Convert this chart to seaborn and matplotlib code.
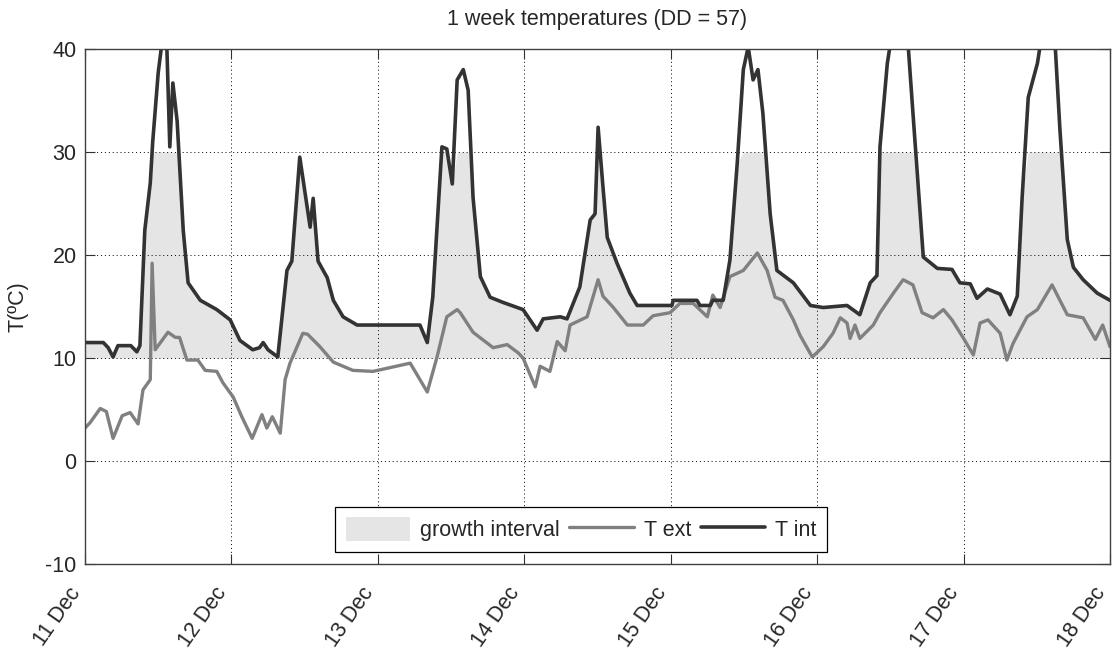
import numpy as np
import matplotlib
matplotlib.use("Agg")
import matplotlib.pyplot as plt
import matplotlib.transforms as mtransforms
import seaborn as sns
from matplotlib.patches import Patch
from matplotlib.lines import Line2D

# ---------------- data ----------------
day_labels = ["11 Dec", "12 Dec", "13 Dec", "14 Dec", "15 Dec", "16 Dec", "17 Dec", "18 Dec"]
y_ticks = [-10, 0, 10, 20, 30, 40]

tint_hours = [0, 3, 3.8, 4.6, 5.4, 7.5, 8.5, 9, 9.8, 10.7, 11.1, 12, 12.8, 13.4, 13.9, 14.4, 15.1,
              16.1, 16.9, 18.9, 21.6, 23.8, 25.4, 27.5, 28.6, 29.2, 30, 31.6, 33.1, 33.9, 35.2,
              36.9, 37.4, 38.2, 39.7, 40.7, 42.3, 44.6, 54.9, 56.1, 57, 58.5, 59.3, 60.2, 61, 62,
              62.8, 63.6, 64.8, 66.4, 68.5, 71.8, 74.1, 75.1, 77.9, 79, 81.1, 82.8, 83.6, 84.1,
              84.8, 85.6, 87.2, 89.3, 90.5, 96.2, 96.4, 100.3, 100.8, 102.5, 102.9, 104.6, 105.7,
              106.9, 107.9, 108.7, 109.5, 110.3, 111.1, 112.3, 113.4, 116.1, 118.9, 121, 124.9,
              127, 128.7, 129.8, 130.3, 131.5, 132, 133.5, 134.9, 135.7, 137.4, 139.7, 142.1,
              143.4, 145.1, 146.2, 147.9, 150, 151.6, 152.8, 153.6, 154.6, 156.1, 156.6, 157.8,
              159, 159.8, 161, 162, 163.6, 165.9, 168]
tint_vals = [11.5, 11.5, 11.0, 10.1, 11.2, 11.2, 10.6, 11.2, 22.4, 27.0, 31.0, 37.7, 41.5, 40.5,
             30.5, 36.7, 33.0, 22.4, 17.3, 15.6, 14.7, 13.7, 11.7, 10.8, 11.0, 11.5, 10.8, 10.1,
             18.5, 19.4, 29.5, 22.7, 25.5, 19.4, 17.8, 15.6, 14.0, 13.2, 13.2, 11.5, 15.9, 30.5,
             30.3, 26.9, 37.0, 38.0, 36.0, 25.6, 17.9, 15.9, 15.4, 14.7, 12.7, 13.8, 14.0, 13.8,
             16.9, 23.4, 24.0, 32.4, 27.3, 21.7, 19.2, 16.3, 15.1, 15.1, 15.6, 15.6, 15.1, 15.1,
             15.6, 15.6, 19.5, 28.9, 38.0, 40.2, 37.0, 38.0, 33.8, 24.0, 18.5, 17.3, 15.1, 14.9,
             15.1, 14.2, 17.3, 18.0, 30.5, 38.6, 40.5, 42.0, 40.5, 33.8, 19.8, 18.7, 18.6, 17.3,
             17.2, 15.8, 16.7, 16.2, 14.2, 16.0, 25.6, 35.3, 38.6, 40.5, 42.0, 40.5, 32.1, 21.5,
             18.8, 17.6, 16.3, 15.6]

text_hours = [0, 0.8, 2.5, 3.5, 4.6, 6.1, 7.4, 8.7, 9.5, 10.7, 11.0, 11.5, 13.6, 14.8, 15.5, 16.7,
              18.5, 19.7, 21.6, 22.6, 24.3, 25.7, 27.4, 29, 29.8, 30.7, 32, 32.8, 33.6, 35.7, 36.5,
              38.5, 40.7, 43.9, 47.2, 53.3, 56.1, 57.7, 59.3, 61, 61.5, 63.6, 66.9, 69.2, 71, 71.8,
              73.8, 74.6, 76.2, 77.4, 78.7, 79.5, 82.3, 84.1, 84.9, 86.6, 88.9, 91.5, 93.1, 95.9,
              97.5, 99.7, 102, 102.9, 104.1, 105.7, 107.9, 110.2, 111.8, 113.1, 114.4, 116.1, 117.2,
              119.2, 121, 122.6, 123.8, 124.9, 125.4, 126.2, 127, 129.2, 130.3, 132.5, 134.1, 135.7,
              137.2, 139, 140.7, 142.1, 143.9, 145.6, 146.7, 148, 150, 151.1, 152.1, 154.4, 156.1,
              158.5, 161, 163.6, 165.6, 166.8, 168]
text_vals = [3.2, 3.7, 5.1, 4.8, 2.2, 4.4, 4.7, 3.6, 6.9, 7.9, 19.2, 10.8, 12.5, 12.0, 12.0, 9.8,
             9.8, 8.8, 8.7, 7.6, 6.2, 4.3, 2.2, 4.5, 3.2, 4.3, 2.7, 7.9, 9.5, 12.4, 12.3, 11.1, 9.6,
             8.8, 8.7, 9.5, 6.7, 10.1, 14.0, 14.7, 14.4, 12.5, 11.0, 11.3, 10.5, 10.0, 7.2, 9.2,
             8.7, 11.6, 10.7, 13.2, 14.0, 17.6, 16.0, 14.9, 13.2, 13.2, 14.1, 14.4, 15.3, 15.3,
             14.0, 16.1, 14.9, 17.9, 18.5, 20.2, 18.5, 15.9, 15.6, 13.7, 12.2, 10.1, 11.1, 12.4,
             13.9, 13.4, 11.9, 13.2, 11.9, 13.2, 14.4, 16.3, 17.6, 17.1, 14.4, 13.9, 14.7, 13.7,
             12.0, 10.3, 13.4, 13.7, 12.4, 9.8, 11.4, 14.0, 14.7, 17.1, 14.2, 13.9, 11.8, 13.2,
             11.1]

growth_low = 10
growth_high = 30

# ---------------- style ----------------
sns.set_style("white")
plt.rcParams['font.family'] = ['Liberation Sans', 'DejaVu Sans']

FS = 15.5
fill_col = "#e5e5e5"
ext_col = "#808080"
int_col = "#333333"

fig = plt.figure(figsize=(11.16, 6.51), dpi=100)
ax = fig.add_axes([85 / 1116, 1 - 564 / 651, 1025 / 1116, 515 / 651])

tint_arr = np.array(tint_vals)
ax.fill_between(tint_hours, growth_low, np.clip(tint_arr, growth_low, growth_high),
                color=fill_col, linewidth=0, zorder=1)

sns.lineplot(x=text_hours, y=text_vals, color=ext_col, linewidth=2.4, ax=ax, zorder=3,
             legend=False)
sns.lineplot(x=tint_hours, y=tint_vals, color=int_col, linewidth=2.6, ax=ax, zorder=4,
             legend=False)

ax.set_xlim(0, 168)
ax.set_ylim(-10, 40)
ax.set_xticks(np.arange(0, 169, 24))
ax.set_xticklabels(day_labels, rotation=55, ha='right', va='top', fontsize=FS,
                   rotation_mode='default')
offset = mtransforms.ScaledTranslation(6 / 100, 0, fig.dpi_scale_trans)
for lbl in ax.get_xticklabels():
    lbl.set_transform(lbl.get_transform() + offset)
ax.set_yticks(y_ticks)
ax.set_yticklabels([str(v) for v in y_ticks], fontsize=FS)

ax.grid(True, linestyle=(0, (1, 3)), color='black', linewidth=0.7, zorder=2)
ax.set_axisbelow(False)
for s in ax.spines.values():
    s.set_color('#404040')
    s.set_linewidth(1.0)
    s.set_zorder(6)
ax.tick_params(direction='in', length=7, width=0.8, color='#303030', top=True, right=True,
               bottom=True, left=True, labeltop=False, labelright=False, pad=6)
ax.tick_params(axis='x', pad=14)

ax.set_title("1 week temperatures (DD = 57)", fontsize=FS, pad=17)
ax.set_ylabel("T(ºC)", fontsize=FS, labelpad=12)
ax.set_xlabel("")

handles = [Patch(facecolor=fill_col, edgecolor='none'),
           Line2D([], [], color=ext_col, linewidth=2.4),
           Line2D([], [], color=int_col, linewidth=2.6)]
labels = ["growth interval", "T ext", "T int"]
leg = ax.legend(handles, labels, loc='lower center', bbox_to_anchor=(0.484, 0.023), ncol=3,
                frameon=True, fancybox=False, edgecolor='black', framealpha=1,
                handlelength=3.0, handleheight=1.3, columnspacing=0.45, handletextpad=0.45,
                borderaxespad=0, borderpad=0.5, fontsize=FS)
leg.get_frame().set_linewidth(0.9)
leg.set_zorder(10)

fig.savefig("out.png", dpi=100, facecolor='white')
